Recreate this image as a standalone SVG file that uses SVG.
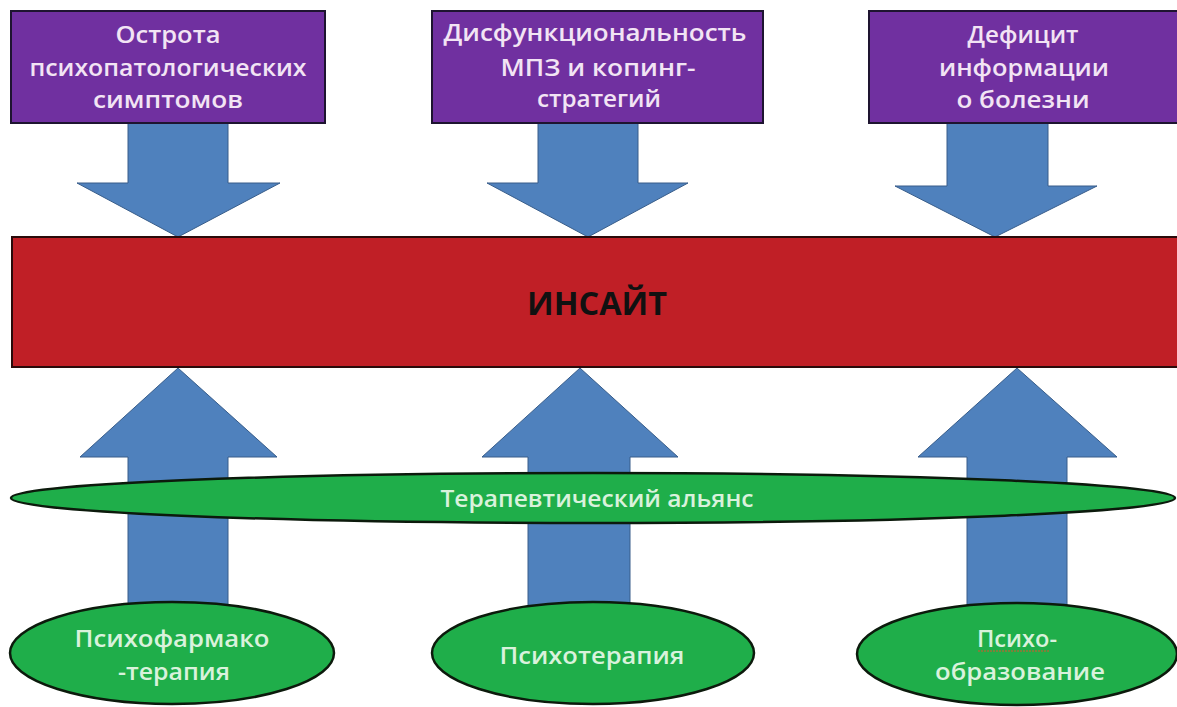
<svg xmlns="http://www.w3.org/2000/svg" width="1177" height="707" viewBox="0 0 1177 707">
<style>
.box{fill:#7030a0;stroke:#1e1430;stroke-width:2}
.bar{fill:#c01f26;stroke:#2a0a0a;stroke-width:2}
.arr{fill:#4f81bd;stroke:#385d8a;stroke-width:1}
.ell{fill:#1fae4a;stroke:#0c1a0c;stroke-width:2.5}
.tw{font-family:"Open Sans","DejaVu Sans",sans-serif;font-size:24px;font-weight:600;fill:#f2e4f4;text-anchor:middle}
.tg{font-family:"Open Sans","DejaVu Sans",sans-serif;font-size:24px;font-weight:600;fill:#d9f2dc;text-anchor:middle}
.tb{font-family:"Open Sans","DejaVu Sans",sans-serif;font-size:32px;font-weight:700;fill:#111;text-anchor:middle}
</style>
<rect width="1177" height="707" fill="#ffffff"/>
<g id="connectors">
  <polygon class="arr" points="128,123 228,123 228,183 280,183 178,237 77,183 128,183"/>
  <polygon class="arr" points="538,123 638,123 638,183 688,183 588,237 487,183 538,183"/>
  <polygon class="arr" points="947,123 1048,123 1048,186 1097,186 995,237 895,186 947,186"/>
  <polygon class="arr" points="178,368 277,457 228,457 228,606 128,606 128,457 80,457"/>
  <polygon class="arr" points="580,368 678,457 630,457 630,606 528,606 528,457 482,457"/>
  <polygon class="arr" points="1017,368 1117,457 1067,457 1067,606 967,606 967,457 918,457"/>
</g>
<g id="node-ostrota">
  <rect class="box" x="11" y="11" width="314" height="112"/>
  <text class="tw" x="168" y="43" textLength="105" lengthAdjust="spacingAndGlyphs">Острота</text>
  <text class="tw" x="168" y="76" textLength="277" lengthAdjust="spacingAndGlyphs">психопатологических</text>
  <text class="tw" x="168" y="108" textLength="150" lengthAdjust="spacingAndGlyphs">симптомов</text>
</g>
<g id="node-disfunc">
  <rect class="box" x="432" y="11" width="331" height="112"/>
  <text class="tw" x="595" y="41" textLength="303" lengthAdjust="spacingAndGlyphs">Дисфункциональность</text>
  <text class="tw" x="598" y="76" textLength="195" lengthAdjust="spacingAndGlyphs">МПЗ и копинг-</text>
  <text class="tw" x="599" y="107" textLength="124" lengthAdjust="spacingAndGlyphs">стратегий</text>
</g>
<g id="node-deficit">
  <rect class="box" x="869" y="11" width="320" height="112"/>
  <text class="tw" x="1023" y="43" textLength="111" lengthAdjust="spacingAndGlyphs">Дефицит</text>
  <text class="tw" x="1024" y="76" textLength="170" lengthAdjust="spacingAndGlyphs">информации</text>
  <text class="tw" x="1023" y="108" textLength="133" lengthAdjust="spacingAndGlyphs">о болезни</text>
</g>
<g id="node-insait">
  <rect class="bar" x="12" y="237" width="1175" height="130"/>
  <text class="tb" x="597" y="315" textLength="140" lengthAdjust="spacingAndGlyphs">ИНСАЙТ</text>
</g>
<g id="node-alliance">
  <ellipse class="ell" cx="593" cy="498" rx="582" ry="25"/>
  <text class="tg" x="597" y="507" textLength="313" lengthAdjust="spacingAndGlyphs">Терапевтический альянс</text>
</g>
<g id="node-pharma">
  <ellipse class="ell" cx="172" cy="653" rx="162" ry="51"/>
  <text class="tg" x="172" y="647" textLength="195" lengthAdjust="spacingAndGlyphs">Психофармако</text>
  <text class="tg" x="174" y="680" textLength="112" lengthAdjust="spacingAndGlyphs">-терапия</text>
</g>
<g id="node-psychotherapy">
  <ellipse class="ell" cx="593" cy="653" rx="161" ry="51"/>
  <text class="tg" x="592" y="664" textLength="185" lengthAdjust="spacingAndGlyphs">Психотерапия</text>
</g>
<g id="node-education">
  <ellipse class="ell" cx="1017" cy="654" rx="160" ry="51"/>
  <text class="tg" x="1017" y="647" textLength="80" lengthAdjust="spacingAndGlyphs">Психо-</text>
  <line x1="978" y1="651" x2="1050" y2="651" stroke="#d9552a" stroke-width="1.2" stroke-dasharray="2 1"/>
  <text class="tg" x="1020" y="680" textLength="170" lengthAdjust="spacingAndGlyphs">образование</text>
</g>
</svg>
